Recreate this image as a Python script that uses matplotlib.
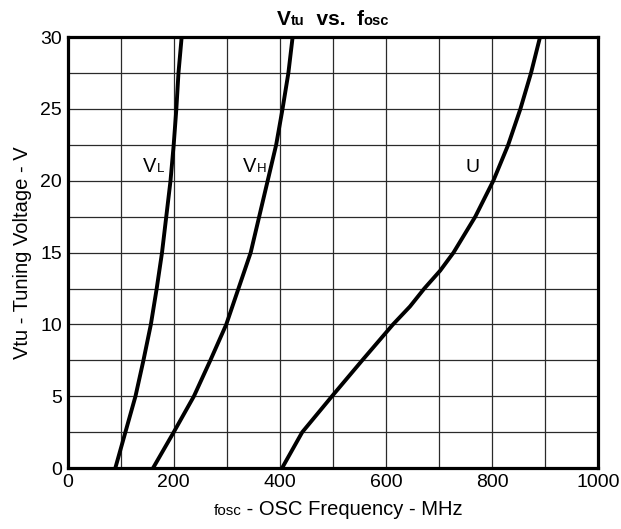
import matplotlib.pyplot as plt
from matplotlib.offsetbox import TextArea, HPacker, AnchoredOffsetbox

plt.rcParams['font.family'] = ['Liberation Sans', 'DejaVu Sans']

# Tuning voltage points (V) and oscillator frequency (MHz)
volts = [0, 2.5, 5, 7.5, 10, 12.5, 15, 17.5, 20, 22.5, 25, 27.5, 30]
f_vl = [90, 109, 128, 143, 157, 168, 178, 186, 194, 200, 205, 209, 215]
f_vh = [161, 200, 238, 269, 299, 322, 345, 361, 377, 393, 405, 416, 424]

volts_u = [0, 1.25, 2.5, 5, 7.5, 10, 11.25, 12.5, 13.75, 15, 17.5, 20, 22.5, 25, 27.5, 30]
f_u = [404, 423, 442, 498, 555, 613, 645, 672, 702, 727, 768, 802, 830, 853, 873, 890]

x_ticks = [0, 200, 400, 600, 800, 1000]
y_ticks = [0, 5, 10, 15, 20, 25, 30]

fig = plt.figure(figsize=(6.21, 5.29), dpi=100)
ax = fig.add_axes([0.1087, 0.115, 0.855, 0.815])

for f, v in ((f_vl, volts), (f_vh, volts), (f_u, volts_u)):
    ax.plot(f, v, color='black', linewidth=2.8, solid_joinstyle='round')

ax.set_xlim(0, 1000)
ax.set_ylim(0, 30)
ax.set_xticks(x_ticks)
ax.set_yticks(y_ticks)
ax.set_xticks(range(0, 1001, 100), minor=True)
ax.set_yticks([i * 2.5 for i in range(13)], minor=True)
ax.grid(True, which='both', color='#2a2a2a', linewidth=0.9)
ax.set_axisbelow(True)
ax.tick_params(which='both', length=0, labelsize=14, pad=4)
for s in ax.spines.values():
    s.set_linewidth(2.3)

# curve labels: big letter + small suffix
def label(x, y, big, small):
    ax.text(x, y, big, fontsize=14.5, ha='right', va='baseline')
    ax.text(x, y, small, fontsize=9.5, ha='left', va='baseline')

label(168, 20.6, 'V', 'L')
label(356, 20.6, 'V', 'H')
ax.text(763, 20.6, 'U', fontsize=14, ha='center', va='baseline')

ax.set_ylabel('Vtu - Tuning Voltage - V', fontsize=14.5, labelpad=6)

# title with small suffixes
title = HPacker(children=[
    TextArea('V', textprops=dict(fontsize=15, fontweight='bold')),
    TextArea('tu', textprops=dict(fontsize=10.5, fontweight='bold')),
    TextArea('  vs.  ', textprops=dict(fontsize=15, fontweight='bold')),
    TextArea('f', textprops=dict(fontsize=15, fontweight='bold')),
    TextArea('osc', textprops=dict(fontsize=10.5, fontweight='bold')),
], align='baseline', pad=0, sep=0)
ax.add_artist(AnchoredOffsetbox(loc='lower center', child=title, frameon=False,
                                bbox_to_anchor=(0.5, 1.0), bbox_transform=ax.transAxes,
                                borderpad=0.2))

xlab = HPacker(children=[
    TextArea('fosc', textprops=dict(fontsize=11)),
    TextArea(' - OSC Frequency - MHz', textprops=dict(fontsize=14.5)),
], align='baseline', pad=0, sep=0)
ax.add_artist(AnchoredOffsetbox(loc='upper center', child=xlab, frameon=False,
                                bbox_to_anchor=(0.51, -0.062), bbox_transform=ax.transAxes,
                                borderpad=0))

fig.savefig('out.png', dpi=100)
